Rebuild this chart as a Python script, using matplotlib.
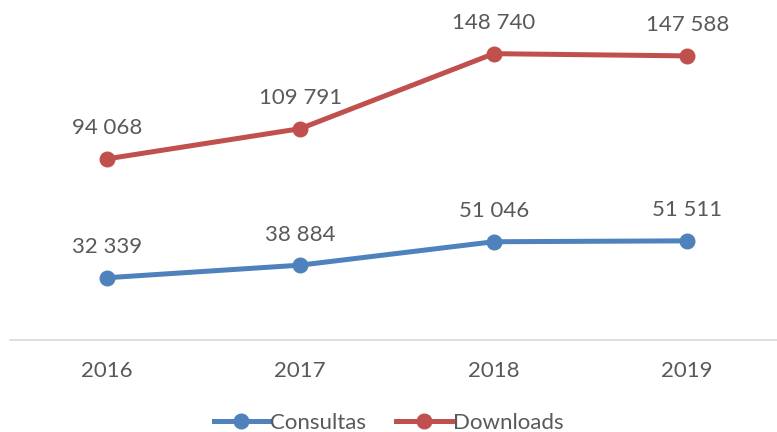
import matplotlib
matplotlib.use("Agg")
import matplotlib.pyplot as plt
from matplotlib.lines import Line2D

plt.rcParams['font.family'] = ['Lato', 'DejaVu Sans']

years = ["2016", "2017", "2018", "2019"]
consultas = [32339, 38884, 51046, 51511]
downloads = [94068, 109791, 148740, 147588]
consultas_labels = ["32 339", "38 884", "51 046", "51 511"]
downloads_labels = ["94 068", "109 791", "148 740", "147 588"]

blue = "#4F81BD"
red = "#C0504D"
txt = "#595959"

fig = plt.figure(figsize=(7.77, 4.32), dpi=100)
ax = fig.add_axes([10/777, 92/432, 774/777, 308/432])
ax.set_xlim(-0.5, 3.5)
ax.set_ylim(0, 160000)
x = list(range(len(years)))

for vals, labs, c in [(consultas, consultas_labels, blue), (downloads, downloads_labels, red)]:
    ax.plot(x, vals, color=c, lw=3.6, marker='o', ms=10.5, solid_capstyle='round', clip_on=False)
    for xi, v, l in zip(x, vals, labs):
        ax.annotate(l, (xi, v), xytext=(0, 22), textcoords='offset points',
                    ha='center', va='center', fontsize=16, color=txt)

for s in ['left', 'right', 'top']:
    ax.spines[s].set_visible(False)
ax.spines['bottom'].set_color('#D9D9D9')
ax.spines['bottom'].set_linewidth(1.2)
ax.set_yticks([])
ax.set_xticks(x)
ax.set_xticklabels(years, fontsize=16, color=txt)
ax.tick_params(axis='x', length=0, pad=15)

handles = [Line2D([], [], color=blue, lw=3.6, marker='o', ms=10.5),
           Line2D([], [], color=red, lw=3.6, marker='o', ms=10.5)]
fig.legend(handles, ["Consultas", "Downloads"], loc='center', bbox_to_anchor=(0.5, 1 - 423/432),
           ncol=2, frameon=False, fontsize=16, labelcolor=txt, handlelength=2.5,
           handletextpad=0.05, columnspacing=1.35)

fig.savefig("out.png", dpi=100)
